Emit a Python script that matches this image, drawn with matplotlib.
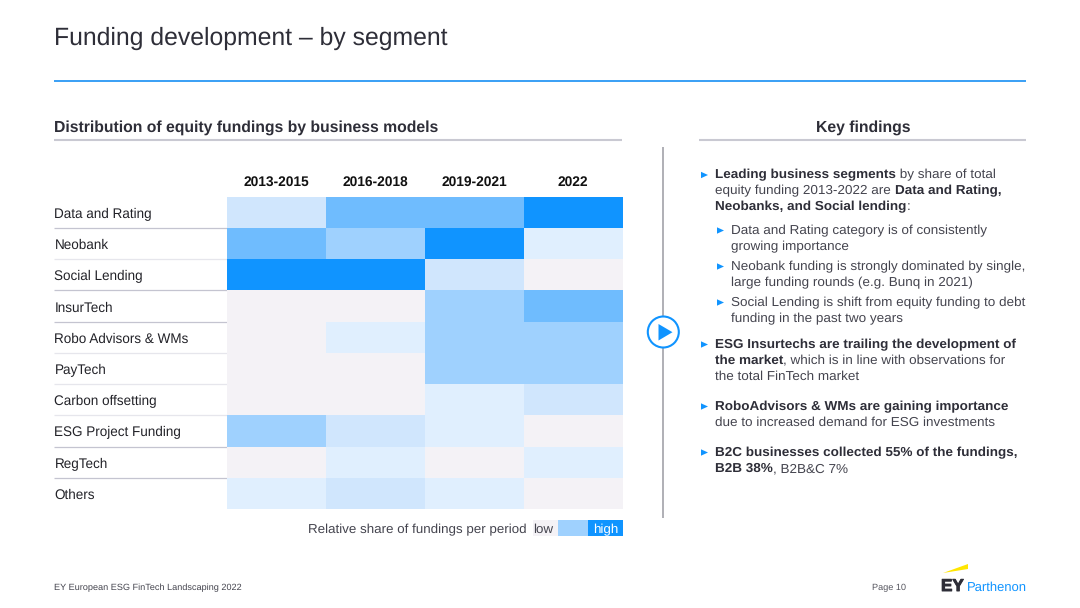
import matplotlib
matplotlib.use("Agg")
import matplotlib.pyplot as plt
from matplotlib.colors import ListedColormap, BoundaryNorm
from matplotlib.patches import Circle, Polygon, Rectangle
import matplotlib.patheffects as pe
import numpy as np

plt.rcParams['font.family'] = ['Liberation Sans', 'DejaVu Sans']
plt.rcParams['text.hinting'] = 'no_hinting'
plt.rcParams['text.hinting_factor'] = 8

periods = ["2013-2015", "2016-2018", "2019-2021", "2022"]
segments = ["Data and Rating", "Neobank", "Social Lending", "InsurTech", "Robo Advisors & WMs",
            "PayTech", "Carbon offsetting", "ESG Project Funding", "RegTech", "Others"]
# relative share level per period (0 = low ... 5 = high)
share_2013_2015 = [2, 4, 5, 0, 0, 0, 0, 3, 0, 1]
share_2016_2018 = [4, 3, 5, 0, 1, 0, 0, 2, 1, 2]
share_2019_2021 = [4, 5, 2, 3, 3, 3, 1, 1, 0, 1]
share_2022 = [5, 1, 0, 4, 3, 3, 2, 0, 1, 0]
level_colors = ['#F4F2F6', '#E0EFFE', '#D0E6FD', '#9FD1FE', '#6FBCFE', '#1094FF']
legend_levels = [0, 3, 5]
legend_labels = ["low", "", "high"]

W, H = 1080, 608
INK = '#2E2E38'
GREY = '#C9C9D2'
BLUE = '#1094FF'

fig = plt.figure(figsize=(W / 100, H / 100), dpi=100)
bg = fig.add_axes([0, 0, 1, 1])
bg.set_xlim(0, W); bg.set_ylim(H, 0); bg.axis('off')


def sub_axes(x0, y0, x1, y1):
    return fig.add_axes([x0 / W, 1 - y1 / H, (x1 - x0) / W, (y1 - y0) / H])


cmap = ListedColormap(level_colors)
norm = BoundaryNorm(np.arange(-0.5, 6.5), cmap.N)
grid = np.array([share_2013_2015, share_2016_2018, share_2019_2021, share_2022]).T

# Heatmap
ax = sub_axes(227, 196.5, 622.5, 509)
ax.pcolormesh(grid, cmap=cmap, norm=norm, edgecolors='none')
ax.set_ylim(len(segments), 0)
ax.axis('off')

# Column and row labels
col_w = (622.5 - 227) / 4
for i, p in enumerate(periods):
    bg.text(227 + col_w * (i + .5), 186, p, ha='center', va='baseline', fontsize=9.95,
            fontweight='bold', color='#111111')
row_h = (509 - 196.5) / 10
for i, s in enumerate(segments):
    y = 196.5 + row_h * (i + .5)
    bg.text(54.5, y + 5.5, s, ha='left', va='baseline', fontsize=9.75, color='#222228')
    if i < 9:
        yl = 196.5 + row_h * (i + 1)
        light = i in (1, 4, 5, 6)
        bg.plot([54, 227], [yl, yl], color='#E6E6EC' if light else '#C4C4D0', lw=.9,
                solid_capstyle='butt')

# Legend
bg.text(527, 533, "Relative share of fundings per period", ha='right', va='baseline',
        fontsize=9.6, color='#44444E')
leg_x = [533, 558, 587.5, 622.5]
for i, lvl in enumerate(legend_levels):
    bg.add_patch(Rectangle((leg_x[i], 520), leg_x[i + 1] - leg_x[i], 16, fc=level_colors[lvl], ec='none'))
bg.text(543.5, 533, legend_labels[0], ha='center', va='baseline', fontsize=9.6, color='#44444E')
bg.text(606, 533, legend_labels[2], ha='center', va='baseline', fontsize=9.6, color='white')

# Header
bg.text(54, 38, "Funding development \u2013 by segment", ha='left', va='center', fontsize=17.8, color=INK)
bg.plot([54, 1026], [80.5, 80.5], color='#2A97F5', lw=1.3, solid_capstyle='butt')
bg.text(54, 132, "Distribution of equity fundings by business models", ha='left', va='baseline',
        fontsize=11.33, fontweight='bold', color=INK)
bg.plot([54, 622], [139.5, 139.5], color=GREY, lw=1.5, solid_capstyle='butt')
bg.text(863, 132, "Key findings", ha='center', va='baseline', fontsize=11.33, fontweight='bold', color=INK)
bg.plot([699, 1026], [139.5, 139.5], color=GREY, lw=1.5, solid_capstyle='butt')

# Divider and play icon
bg.plot([663, 663], [147, 518], color='#9A9AA2', lw=1.1, solid_capstyle='butt', zorder=1)
bg.add_patch(Circle((663.3, 332), 15.5, fc='white', ec=BLUE, lw=1.5, zorder=2))
bg.add_patch(Polygon([[658.5, 324], [658.5, 340.5], [672.5, 332.2]], fc=BLUE, ec='none', zorder=3))

# Findings text
renderer = fig.canvas.get_renderer()
FS = 9.7


def runs(x, y, parts):
    for txt, bold in parts:
        t = bg.text(x, y, txt, ha='left', va='baseline', fontsize=FS, color='#2E2E38' if bold else '#44444E',
                    fontweight='bold' if bold else 'normal')
        x = t.get_window_extent(renderer).x1


def bullet(x, y):
    bg.add_patch(Polygon([[x, y - 3.2], [x, y + 3.2], [x + 7, y]], fc=BLUE, ec='none'))


b, n = True, False
blocks = [
    (701, 715, [(178.5, [("Leading business segments", b), (" by share of total", n)]),
                (194.5, [("equity funding 2013-2022 are ", n), ("Data and Rating,", b)]),
                (210.5, [("Neobanks, and Social lending", b), (":", n)])]),
    (717, 731, [(234, [("Data and Rating category is of consistently", n)]),
                (250, [("growing importance", n)])]),
    (717, 731, [(270, [("Neobank funding is strongly dominated by single,", n)]),
                (286, [("large funding rounds (e.g. Bunq in 2021)", n)])]),
    (717, 731, [(306, [("Social Lending is shift from equity funding to debt", n)]),
                (322, [("funding in the past two years", n)])]),
    (701, 715, [(348, [("ESG Insurtechs are trailing the development of", b)]),
                (364, [("the market", b), (", which is in line with observations for", n)]),
                (380, [("the total FinTech market", n)])]),
    (701, 715, [(410, [("RoboAdvisors & WMs are gaining importance", b)]),
                (426, [("due to increased demand for ESG investments", n)])]),
    (701, 715, [(456, [("B2C businesses collected 55% of the fundings,", b)]),
                (472, [("B2B 38%", b), (", B2B&C 7%", n)])]),
]
for bx, tx, lines in blocks:
    bullet(bx, lines[0][0] - 3.5)
    for y, parts in lines:
        runs(tx, y, parts)

# Footer
bg.text(54, 588, "EY European ESG FinTech Landscaping 2022", ha='left', va='center', fontsize=6.6, color='#44444E')
bg.text(871.5, 588, "Page 10", ha='left', va='center', fontsize=6.6, color='#55555E')
bg.text(941, 591, "EY", ha='left', va='baseline', fontsize=12.3, fontweight='bold', color=INK,
        path_effects=[pe.withStroke(linewidth=0.7, foreground=INK)])
bg.add_patch(Polygon([[943, 573], [968, 564], [968, 569]], fc='#FFE600', ec='none'))
bg.text(967, 590.5, "Parthenon", ha='left', va='baseline', fontsize=9.4, color=BLUE)

fig.savefig("out.png", dpi=100)
